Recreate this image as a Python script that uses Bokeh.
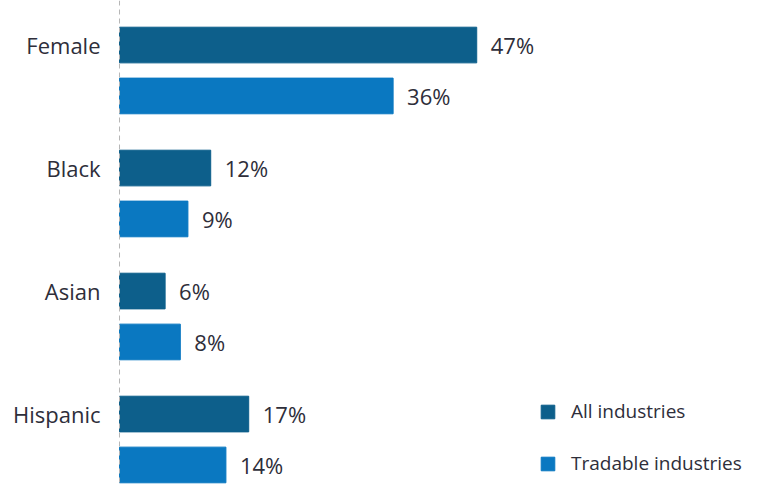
from bokeh.plotting import figure
from bokeh.models import ColumnDataSource, Range1d, Span, Legend, LegendItem
from bokeh.core.properties import value
from bokeh.embed import file_html
from bokeh.resources import INLINE

categories = ["Female", "Black", "Asian", "Hispanic"]
all_industries = [47, 12, 6, 17]
tradable_industries = [36, 9, 8, 14]
series_names = ["All industries", "Tradable industries"]

DARK = "#0d5f8b"
LIGHT = "#0a78c1"
TEXT = "#2e2e3a"
FONT = "Open Sans"

idx = list(range(len(categories)))
src_all = ColumnDataSource(dict(
    y=[i + 0.362 for i in idx], v=all_industries,
    lab=[f"{v}%" for v in all_industries], cat=categories))
src_trd = ColumnDataSource(dict(
    y=[i + 0.776 for i in idx], v=tradable_industries,
    lab=[f"{v}%" for v in tradable_industries]))

W, H = 748, 486
p = figure(width=W, height=H, output_backend="svg", toolbar_location=None,
           x_range=Range1d(-15.66, 82.76), y_range=Range1d(3.951, 0),
           min_border=0, min_border_left=0, min_border_right=0,
           min_border_top=0, min_border_bottom=0)
p.xaxis.visible = False
p.yaxis.visible = False
p.grid.visible = False
p.outline_line_color = None
p.background_fill_color = "white"
p.border_fill_color = "white"

p.add_layout(Span(location=0, dimension="height", line_color="#b5b5b5",
                  line_dash="5 4", line_width=1))

r1 = p.hbar(y="y", left=0, right="v", height=0.29, source=src_all,
            fill_color=DARK, line_color=DARK)
r2 = p.hbar(y="y", left=0, right="v", height=0.29, source=src_trd,
            fill_color=LIGHT, line_color=LIGHT)

for src in (src_all, src_trd):
    p.text(x="v", y="y", text="lab", source=src, x_offset=14,
           text_align="left", text_baseline="middle",
           text_font=value(FONT), text_font_size="22px", text_color=TEXT)

p.text(x=0, y="y", text="cat", source=src_all, x_offset=-19,
       text_align="right", text_baseline="middle",
       text_font=value(FONT), text_font_size="22px", text_color=TEXT)

legend = Legend(items=[LegendItem(label=series_names[0], renderers=[r1]),
                       LegendItem(label=series_names[1], renderers=[r2])],
                location=(539, 10), orientation="vertical",
                glyph_width=17, glyph_height=17, label_height=20,
                label_standoff=15, spacing=26, padding=0, margin=0,
                border_line_alpha=0, background_fill_alpha=0,
                label_text_font=FONT, label_text_font_size="19px",
                label_text_color=TEXT)
p.add_layout(legend)

open("out.html", "w").write(file_html(p, INLINE))
